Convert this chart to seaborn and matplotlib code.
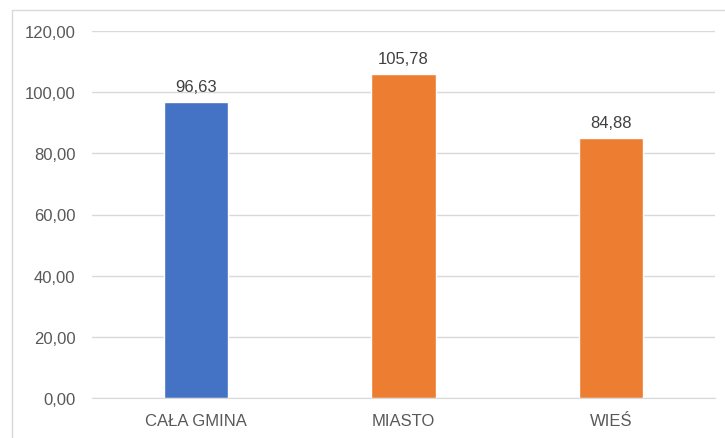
import seaborn as sns
import matplotlib.pyplot as plt
import pandas as pd
from matplotlib.lines import Line2D

categories = ['CAŁA GMINA', 'MIASTO', 'WIEŚ']
values = [96.63, 105.78, 84.88]
colors = ['#4472C4', '#ED7D31', '#ED7D31']
yticks = [0, 20, 40, 60, 80, 100, 120]

df = pd.DataFrame({'cat': categories, 'val': values})

sns.set_style('white')
plt.rcParams['font.family'] = ['Liberation Sans', 'DejaVu Sans']

fig = plt.figure(figsize=(7.25, 4.39), dpi=100)
ax = fig.add_axes([92 / 725, 1 - 399 / 439, 623 / 725, 367 / 439])

sns.barplot(data=df, x='cat', y='val', hue='cat', palette=colors,
            width=0.31, legend=False, ax=ax, saturation=1)

ax.set_ylim(0, 120)
ax.set_yticks(yticks)
ax.set_yticklabels([('%.2f' % t).replace('.', ',') for t in yticks])
ax.yaxis.grid(True, color='#D9D9D9', linewidth=1)
ax.set_axisbelow(True)
for s in ['top', 'right', 'left']:
    ax.spines[s].set_visible(False)
ax.spines['bottom'].set_color('#D9D9D9')
ax.tick_params(axis='both', length=0, colors='#595959', labelsize=12)
ax.tick_params(axis='y', pad=12)
ax.tick_params(axis='x', pad=11)
ax.set_xlabel('')
ax.set_ylabel('')

for p, v in zip(ax.patches, values):
    ax.annotate(('%.2f' % v).replace('.', ','),
                (p.get_x() + p.get_width() / 2, p.get_height()),
                xytext=(0, 6), textcoords='offset points',
                ha='center', va='bottom', fontsize=12, color='#404040')

# chart frame: only top and left edges fall inside the crop
x0, y0 = 11.5 / 725, 1 - 10.5 / 439
fig.add_artist(Line2D([x0, 1.0], [y0, y0], transform=fig.transFigure,
                      color='#D9D9D9', linewidth=1))
fig.add_artist(Line2D([x0, x0], [0.0, y0], transform=fig.transFigure,
                      color='#D9D9D9', linewidth=1))

plt.savefig('out.png', dpi=100)
